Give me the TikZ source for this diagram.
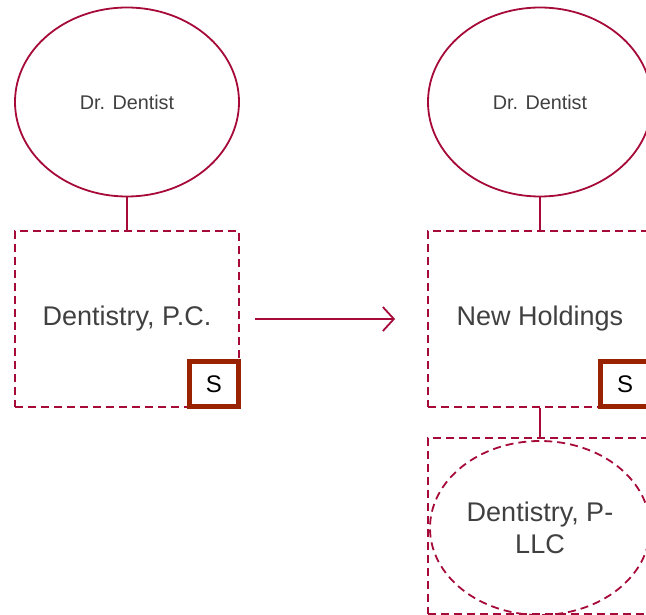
\documentclass[tikz,border=0pt]{standalone}
\usepackage{fontspec}
\setmainfont{Liberation Sans}
\usetikzlibrary{calc,shapes.geometric,arrows.meta}

\definecolor{crimson}{RGB}{166,10,56}
\definecolor{rust}{RGB}{153,34,0}
\definecolor{txtgrey}{RGB}{64,64,64}

\begin{document}
\begin{tikzpicture}[x=1pt,y=-1pt,
  owner/.style={ellipse, draw=crimson, line width=1.8pt, minimum width=224pt, minimum height=189pt,
    text=txtgrey, font=\fontsize{19.8}{24}\selectfont},
  entity/.style={rectangle, draw=crimson, line width=1.8pt, dash pattern=on 8pt off 5pt,
    minimum width=224pt, minimum height=176pt, text=txtgrey, font=\fontsize{27}{32}\selectfont},
  pllc/.style={ellipse, draw=crimson, line width=1.8pt, dash pattern=on 8pt off 5pt,
    minimum width=220pt, minimum height=174pt, text=txtgrey, align=center,
    font=\fontsize{27}{32}\selectfont},
  sbox/.style={rectangle, draw=rust, line width=4.8pt, fill=white, minimum width=49pt,
    minimum height=45pt, anchor=south east, font=\fontsize{24}{28}\selectfont},
  link/.style={draw=crimson, line width=1.8pt},
  flow/.style={draw=crimson, line width=1.8pt, -{Straight Barb[length=11pt,width=24pt,line width=1.8pt]}}
]

% Page frame
\clip (0,0) rectangle (646,615);

% Before
\node[owner] (dd1) at (127,102) {Dr. Dentist};
\node[entity] (pc) at (127,319) {\raisebox{-3pt}{Dentistry, P.C.}};
\node[sbox] (s1) at ($(pc.south east)+(1,1)$) {S};
\draw[link] (dd1.south) -- (pc.north);

% After
\node[owner] (dd2) at (540,102) {Dr. Dentist};
\node[entity] (hold) at (540,319) {\raisebox{-3pt}{New Holdings}};
\node[sbox] (s2) at ($(hold.south east)+(-1,1)$) {S};
\node[entity] (sub) at (540,526) {};
\node[pllc] (llc) at (540,528) {Dentistry, P-\\LLC};
\draw[link] (dd2.south) -- (hold.north);
\draw[link] (hold.south) -- (sub.north);

% Restructuring arrow
\draw[flow] ([xshift=15pt]pc.east) -- ([xshift=-32pt]hold.west);

\end{tikzpicture}
\end{document}
